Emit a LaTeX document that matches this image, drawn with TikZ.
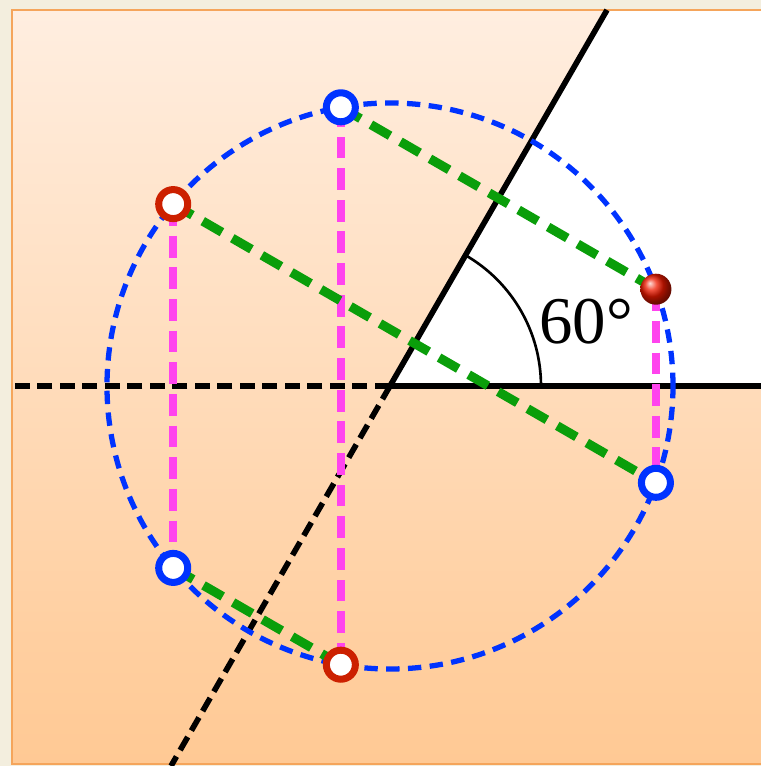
\documentclass[tikz,border=0pt]{standalone}
\usepackage{fontspec}
\setmainfont{Liberation Serif}

\definecolor{paper}{HTML}{F3EEDE}
\definecolor{paneltop}{HTML}{FFEEE0}
\definecolor{panelbot}{HTML}{FFC994}
\definecolor{panelrim}{HTML}{F5A55B}
\definecolor{orbitblue}{HTML}{0033FF}
\definecolor{turnred}{HTML}{CC2000}
\definecolor{ballred}{HTML}{F01A00}
\definecolor{mirgreen}{HTML}{0A9E0A}
\definecolor{mirpink}{HTML}{FF44EE}

\tikzset{
    axisline/.style={black, line width=1.6pt},
    axisdash/.style={axisline, dash pattern=on 4.3pt off 2.1pt},
    orbit/.style={orbitblue, line width=1.5pt, dash pattern=on 3.8pt off 2.4pt},
    flipx/.style={mirpink, line width=2.2pt, dash pattern=on 6.2pt off 2.8pt},
    flipd/.style={mirgreen, line width=2.6pt, dash pattern=on 6.3pt off 3.4pt},
    ringdot/.style={circle, fill=white, line width=2pt, minimum size=0.29cm, inner sep=0pt},
}

\begin{document}
\begin{tikzpicture}[x=0.01cm, y=0.01cm]
        % Page and panel
        \fill[paper] (-390,-380) rectangle (371,386);
        \useasboundingbox (-390,-380) rectangle (371,386);
        \fill[top color=paneltop, bottom color=panelbot] (-378,-378) rectangle (371,376);

        % White wedge between the two mirror lines
        \coordinate (O) at (0,0);
        \coordinate (east) at (371,0);
        \coordinate (west) at (-378,0);
        \coordinate (north) at (217,376);
        \coordinate (south) at (-219,-380);
        \fill[white] (O) -- (east) -- (371,376) -- (north) -- cycle;
        \draw[panelrim, line width=0.6pt] (371,376) -- (-378,376) -- (-378,-378) -- (371,-378);

        % Mirror lines
        \draw[axisline] (O) -- (east);
        \draw[axisline] (O) -- (north);
        \draw[axisdash] (O) -- (west);
        \draw[axisdash] (O) -- (south);

        % Angle
        \draw[black, line width=0.75pt] (151,0) arc (0:60:151);
        \node[font=\fontsize{19}{21}\selectfont] (ang) at (196,64) {60°};

        % Orbit
        \draw[orbit] (O) circle (283);

        % Points: red = rotations, blue = reflections
        \foreach \a [count=\i] in {20,140,260} {
            \coordinate (r\i) at (\a:283);
        }
        \foreach \a [count=\i] in {100,220,340} {
            \coordinate (b\i) at (\a:283);
        }

        % Reflections in the horizontal line
        \draw[flipx] (r1) -- (b3);
        \draw[flipx] (r2) -- (b2);
        \draw[flipx] (r3) -- (b1);

        % Reflections in the 60 degree line
        \draw[flipd] (r1) -- (b1);
        \draw[flipd] (r2) -- (b3);
        \draw[flipd] (r3) -- (b2);

        % Markers
        \node[ringdot, draw=orbitblue] (m1) at (b1) {};
        \node[ringdot, draw=orbitblue] (m2) at (b2) {};
        \node[ringdot, draw=orbitblue] (m3) at (b3) {};
        \node[ringdot, draw=turnred] (m4) at (r2) {};
        \node[ringdot, draw=turnred] (m5) at (r3) {};
        \node[circle, shading=ball, ball color=ballred, minimum size=0.31cm, inner sep=0pt] (start) at (r1) {};
    \end{tikzpicture}
\end{document}
